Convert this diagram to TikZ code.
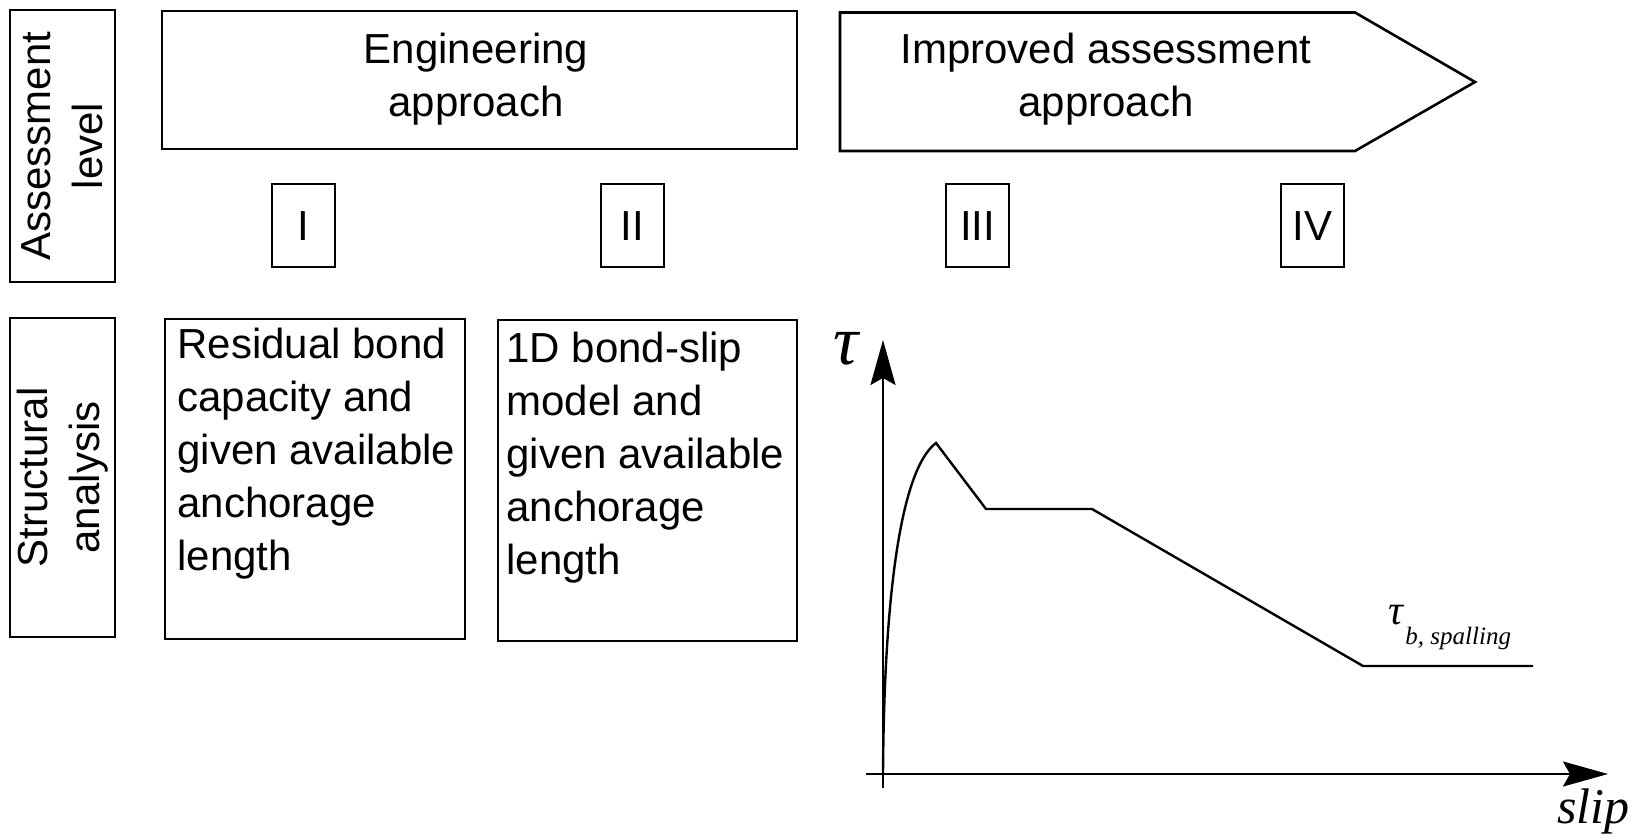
\documentclass[tikz,border=0pt]{standalone}
\usepackage{fontspec}
\setmainfont{Liberation Sans}
\newfontfamily\tnr{Liberation Serif}
\usetikzlibrary{arrows.meta}
\begin{document}
\begin{tikzpicture}[x=0.5pt,y=-0.5pt,
  box/.style={draw, line width=1.3pt, inner sep=0pt, rectangle},
  txt/.style={inner sep=0pt, font=\fontsize{21}{26.5}\selectfont},
  rot/.style={inner sep=0pt, rotate=90, align=center, font=\fontsize{21}{26}\selectfont},
  numbox/.style={box, minimum width=31.5pt, minimum height=41.5pt},
  chart/.style={line width=1.2pt, line join=miter},
  axis/.style={line width=1.2pt, -{Stealth[length=22.5pt,width=12.5pt,inset=3.5pt]}},
]
\useasboundingbox (0,0) rectangle (1633,840);

% left labels
\node[box, minimum width=52.5pt, minimum height=136pt] (assess) at (62.5,146) {};
\node[rot] (assesstxt) at (assess.center) {Assessment\\level};
\node[box, minimum width=52.5pt, minimum height=159.5pt] (struct) at (62.5,477.5) {};
\node[rot] (structtxt) at (struct.center) {Structural\\analysis};

% engineering approach
\node[box, minimum width=317.5pt, minimum height=69pt] (eng) at (479.5,80) {};
\node[txt, align=center, anchor=north] (engtxt) at (476,31) {\rule{0pt}{16pt}Engineering\\approach};

% improved assessment arrow
\draw[line width=1.3pt] (840,12.5) -- (1355,12.5) -- (1475,82) -- (1355,151) -- (840,151) -- cycle;
\node[txt, align=center, anchor=north] (imptxt) at (1106,31) {\rule{0pt}{16pt}Improved assessment\\approach};

% level boxes
\node[numbox] (b1) at (303.5,225.5) {};
\node[numbox] (b2) at (632.5,225.5) {};
\node[numbox] (b3) at (977.5,225.5) {};
\node[numbox] (b4) at (1312.5,225.5) {};
\node[txt, anchor=base] (n1) at (303.5,240) {I};
\node[txt, anchor=base] (n2) at (632.5,240) {II};
\node[txt, anchor=base] (n3) at (977.5,240) {III};
\node[txt, anchor=base] (n4) at (1312.5,240) {IV};

% structural analysis boxes
\node[box, minimum width=150pt, minimum height=160pt] (resid) at (315,479) {};
\node[txt, align=left, anchor=north west] (residtxt) at (177,326)
  {\rule{0pt}{16pt}Residual bond\\capacity and\\given available\\anchorage\\length};
\node[box, minimum width=149.5pt, minimum height=160.5pt] (oned) at (647.5,480.5) {};
\node[txt, align=left, anchor=north west] (onedtxt) at (506,330)
  {\rule{0pt}{16pt}1D bond-slip\\model and\\given available\\anchorage\\length};

% bond-slip chart
\coordinate (yb) at (883,788);
\coordinate (yt) at (883,340);
\coordinate (xb) at (866,774);
\coordinate (xt) at (1608,774);
\draw[axis] (yb) -- (yt);
\draw[axis] (xb) -- (xt);
\coordinate (o) at (883,774);
\coordinate (peak) at (936,443);
\coordinate (p2) at (986,509);
\coordinate (p3) at (1092,509);
\coordinate (p4) at (1363,666);
\coordinate (p5) at (1533,666);
\draw[chart] (o) .. controls (884,600) and (900,470) .. (peak) -- (p2) -- (p3) -- (p4) -- (p5);

\node[inner sep=0pt, font=\tnr\itshape\fontsize{35}{35}\selectfont] (tau) at (846,349) {τ};
\node[inner sep=0pt, anchor=base west] (taub) at (1388,624)
  {{\tnr\itshape\fontsize{21}{21}\selectfont τ}\kern1pt\raisebox{-10pt}{\tnr\itshape\fontsize{12.5}{12.5}\selectfont b, spalling}};
\node[inner sep=0pt, anchor=base west, font=\tnr\itshape\fontsize{25}{25}\selectfont] (slip) at (1557,823) {slip};
\end{tikzpicture}
\end{document}
